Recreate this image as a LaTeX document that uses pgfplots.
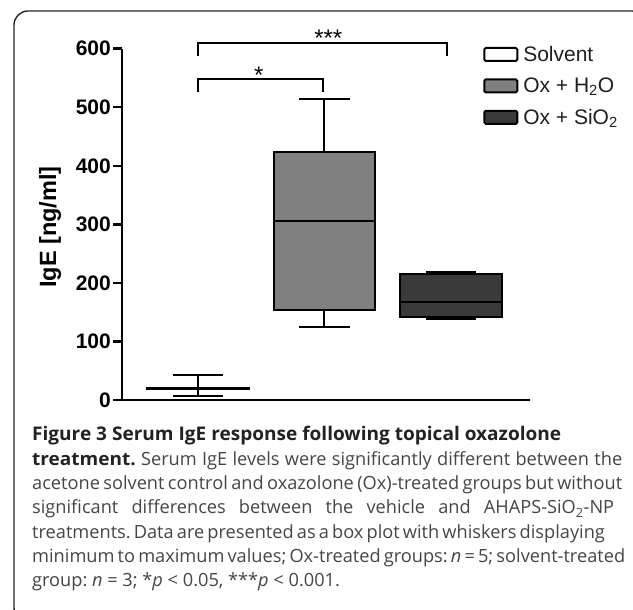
\documentclass[border=0pt]{standalone}
\usepackage{fontspec}
\setmainfont{Liberation Sans}
\newfontfamily\capfont{Open Sans}
\usepackage{graphicx}
\usepackage{pgfplots}
\pgfplotsset{compat=1.18}
\definecolor{boxgray}{HTML}{808080}
\definecolor{boxdark}{HTML}{3A3A3A}
\definecolor{captxt}{HTML}{454545}
\definecolor{capbold}{HTML}{222222}
\frenchspacing
\newcommand{\bfw}[1]{\textcolor{capbold}{\scalebox{1.045}[1]{\bfseries #1}}}
\begin{document}
\begin{tikzpicture}
\draw[line width=1.4pt, black!85, rounded corners=14pt] (14pt,-12pt) rectangle (646pt,599pt);
\begin{axis}[
  at={(122pt,210pt)}, anchor=south west,
  scale only axis, width=408pt, height=351.3pt,
  xmin=-0.601, xmax=2.625, ymin=0, ymax=600,
  axis lines=left,
  axis line style={-, line width=2.5pt, black},
  ytick={0,100,200,300,400,500,600}, xtick=\empty,
  tick align=outside, major tick length=9pt,
  tick style={line width=2.5pt, black},
  /pgf/number format/assume math mode=true,
  yticklabel style={font=\bfseries\fontsize{21}{21}\selectfont, inner sep=2pt},
  ylabel={\bfseries IgE [ng/ml]},
  ylabel style={font=\fontsize{23.5}{23.5}\selectfont, at={(axis description cs:-0.176,0.492)}, anchor=center},
  clip=false,
  legend image code/.code={\draw[#1, rounded corners=1.5pt] (0pt,-6.5pt) rectangle (33pt,6.5pt);},
  legend style={at={(axis description cs:0.885,1.008)}, anchor=north west, draw=none, fill=none,
    inner sep=0pt, row sep=15pt, font=\fontsize{21}{21}\selectfont,
    nodes={inner sep=0pt, text=black!88},
    /tikz/every odd column/.append style={column sep=5pt}},
  legend cell align=left,
  every axis plot/.append style={line width=2pt, line join=miter},
]
% ---- Solvent (x=0): whiskers 7..43, box 18..20, median 19
\addplot[forget plot, black] coordinates {(0,7) (0,43)};
\addplot[forget plot, black] coordinates {(-0.2,7) (0.2,7)};
\addplot[forget plot, black] coordinates {(-0.2,43) (0.2,43)};
\addplot[forget plot, draw=black, fill=white] coordinates {(-0.4,18) (0.4,18) (0.4,20) (-0.4,20)} -- cycle;
\addplot[forget plot, black] coordinates {(-0.4,19) (0.4,19)};
% ---- Ox + H2O (x=1): whiskers 125..514, box 154..423, median 305
\addplot[forget plot, black] coordinates {(1,125) (1,514)};
\addplot[forget plot, black] coordinates {(0.8,125) (1.2,125)};
\addplot[forget plot, black] coordinates {(0.8,514) (1.2,514)};
\addplot[forget plot, draw=black, fill=boxgray] coordinates {(0.6,154) (1.4,154) (1.4,423) (0.6,423)} -- cycle;
\addplot[forget plot, black] coordinates {(0.6,305) (1.4,305)};
% ---- Ox + SiO2 (x=2): whiskers 138..219, box 141..215, median 167
\addplot[forget plot, black] coordinates {(2,138) (2,219)};
\addplot[forget plot, black] coordinates {(1.8,138) (2.2,138)};
\addplot[forget plot, black] coordinates {(1.8,219) (2.2,219)};
\addplot[forget plot, draw=black, fill=boxdark] coordinates {(1.6,141) (2.4,141) (2.4,215) (1.6,215)} -- cycle;
\addplot[forget plot, black] coordinates {(1.6,167) (2.4,167)};
% ---- significance brackets
\addplot[forget plot, black] coordinates {(0,587) (0,609) (1.97,609) (1.97,587)};
\addplot[forget plot, black] coordinates {(0,526) (0,549) (0.99,549) (0.99,526)};
\node[anchor=base, inner sep=0pt, font=\fontsize{24}{24}\selectfont] at (axis cs:0.48,540) {*};
\node[anchor=base, inner sep=0pt, font=\fontsize{24}{24}\selectfont] at (axis cs:1.03,604) {***};
\addlegendimage{draw=black, fill=white, line width=2pt}
\addlegendentry{Solvent}
\addlegendimage{draw=black, fill=boxgray, line width=2pt}
\addlegendentry{Ox + H\textsubscript{2}O}
\addlegendimage{draw=black, fill=boxdark, line width=2pt}
\addlegendentry{Ox + SiO\textsubscript{2}}
\end{axis}
\begin{scope}[every node/.style={anchor=base west, inner sep=0pt, text=captxt, font=\capfont\fontsize{18.2}{24}\selectfont}]
\node at (32pt,169pt) {\textcolor{capbold}{\resizebox{529pt}{\height}{\fontsize{18.8}{24}\selectfont\bfseries Figure 3 Serum IgE response following topical oxazolone}}};
\node at (32pt,144.7pt) {\makebox[590pt][s]{\bfw{treatment.} Serum IgE levels were significantly different between the}};
\node at (32pt,120.4pt) {\makebox[590pt][s]{acetone solvent control and oxazolone (Ox)-treated groups but without}};
\node at (32pt,96.1pt) {\makebox[582pt][s]{significant differences between the vehicle and AHAPS-SiO\textsubscript{2}-NP}};
\node at (32pt,71.8pt) {\makebox[563pt][s]{treatments. Data are presented as a box plot with whiskers displaying}};
\node at (32pt,47.5pt) {\makebox[581pt][s]{minimum to maximum values; Ox-treated groups: \textit{n}~=~5; solvent-treated}};
\node at (32pt,23.2pt) {group: \textit{n}~=~3; *\textit{p}~<~0.05, ***\textit{p}~<~0.001.};
\end{scope}
\pgfresetboundingbox
\path[use as bounding box] (0pt,0pt) rectangle (633pt,610pt);
\end{tikzpicture}
\end{document}
